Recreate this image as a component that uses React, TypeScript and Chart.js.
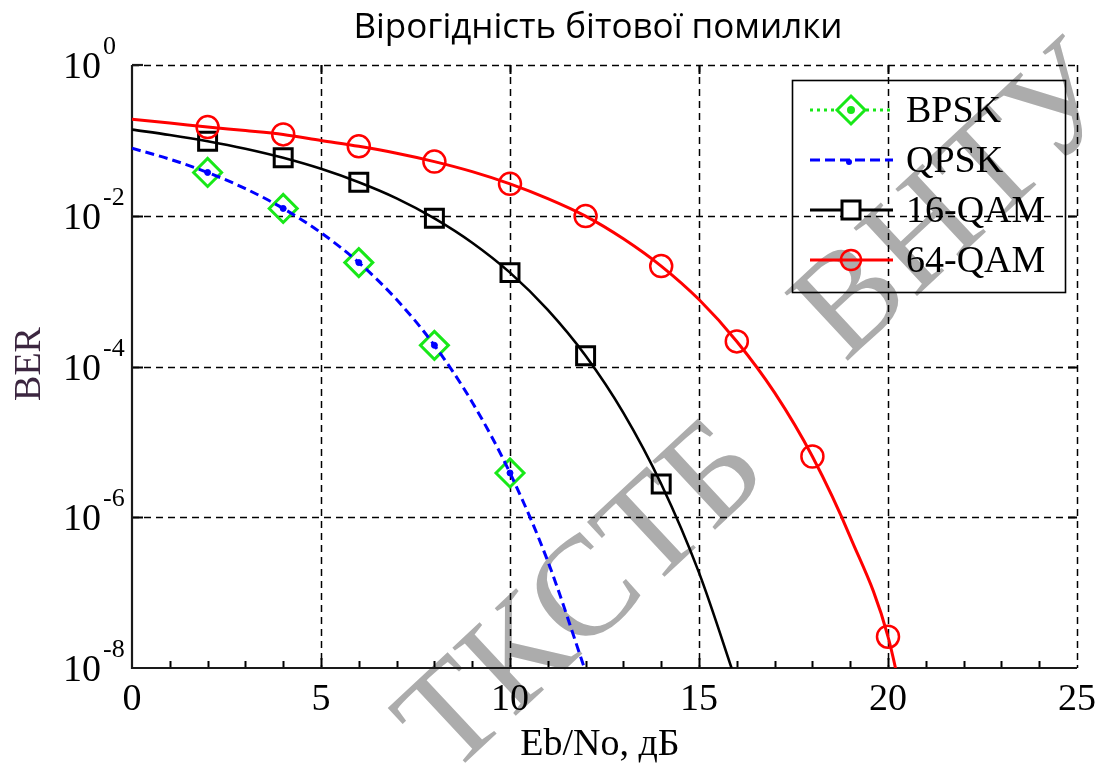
import React, { useEffect, useRef } from 'react';
import { Chart, registerables } from 'chart.js';

Chart.register(...registerables);

const W = 1103;
const H = 766;

// Eb/No grid (dB) and bit error rates for each modulation
const bpskEbNo = [2, 4, 6, 8, 10];
const bpskBer = [3.75e-2, 1.25e-2, 2.39e-3, 1.91e-4, 3.87e-6];

const qpskEbNo = [0, 1, 2, 3, 4, 5, 6, 7, 8, 9, 10, 11, 12];
const qpskBer = [7.86e-2, 5.63e-2, 3.75e-2, 2.29e-2, 1.25e-2, 5.95e-3, 2.39e-3, 7.73e-4, 1.91e-4, 3.36e-5, 3.87e-6, 2.61e-7, 9.0e-9];
const qpskMarkEbNo = [2, 4, 6, 8, 10];

const qam16EbNo = [0, 1, 2, 3, 4, 5, 6, 7, 8, 9, 10, 11, 12, 13, 14, 15, 16];
const qam16Ber = [0.139, 0.118, 0.0975, 0.0775, 0.0587, 0.0419, 0.0278, 0.017, 9.24e-3, 4.39e-3, 1.76e-3, 5.64e-4, 1.39e-4, 2.43e-5, 2.76e-6, 1.84e-7, 6.2e-9];
const qam16MarkEbNo = [2, 4, 6, 8, 10, 12, 14];

const qam64EbNo = [0, 1, 2, 3, 4, 5, 6, 7, 8, 9, 10, 11, 12, 13, 14, 15, 16, 17, 18, 19, 20, 21];
const qam64Ber = [0.19, 0.17, 0.15, 0.135, 0.12, 0.0997, 0.0834, 0.0675, 0.0523, 0.0385, 0.0265, 0.0169, 9.9e-3, 4.95e-3, 2.15e-3, 7.73e-4, 2.15e-4, 4.5e-5, 6.4e-6, 5.5e-7, 2.6e-8, 1e-10];
const qam64MarkEbNo = [2, 4, 6, 8, 10, 12, 14, 16, 18, 20];

// Axis ticks
const xMajorTicks = [0, 5, 10, 15, 20, 25];
const xMinorTicks = [1, 2, 3, 4, 6, 7, 8, 9, 11, 12, 13, 14, 16, 17, 18, 19, 21, 22, 23, 24];
const yTickExponents = [0, -2, -4, -6, -8];

const seriesLabels = ['BPSK', 'QPSK', '16-QAM', '64-QAM'];
const titleText = 'Вірогідність бітової помилки';
const xTitleText = 'Eb/No, дБ';
const yTitleText = 'BER';
const watermarkWords = ['ТКСТБ', 'ВНТУ'];

const GREEN = '#18e818';
const BLUE = '#0000ff';
const BLACK = '#000000';
const RED = '#ff0000';

const SERIF = '"Liberation Serif", "Times New Roman", serif';
const SANS = '"Open Sans", "Noto Sans", sans-serif';

const toPoints = (xs: number[], ys: number[]) => xs.map((x, i) => ({ x, y: ys[i] }));

const markRadius = (marks: number[], r: number) => (c: any) =>
  c.raw && marks.includes(c.raw.x) ? r : 0;

const decorPlugin = {
  id: 'berDecor',
  beforeDatasetsDraw(chart: any) {
    const { ctx, chartArea: a, scales } = chart;
    const xs = scales.x;
    const ys = scales.y;
    ctx.save();

    // watermark
    ctx.fillStyle = '#acacac';
    ctx.font = `142px ${SERIF}`;
    ctx.textAlign = 'center';
    ctx.textBaseline = 'middle';
    const wmPos = [
      [585, 600],
      [960, 205],
    ];
    watermarkWords.forEach((w, i) => {
      ctx.save();
      ctx.translate(wmPos[i][0], wmPos[i][1]);
      ctx.rotate((-43 * Math.PI) / 180);
      ctx.fillText(w, 0, 0);
      ctx.restore();
    });

    // title
    ctx.fillStyle = '#000';
    ctx.font = `35px ${SANS}`;
    ctx.textAlign = 'center';
    ctx.textBaseline = 'alphabetic';
    ctx.fillText(titleText, 598, 38);

    // dashed grid (including top and right edges)
    ctx.strokeStyle = '#000';
    ctx.lineWidth = 1.5;
    ctx.setLineDash([7, 5]);
    xMajorTicks.slice(1).forEach((v) => {
      const px = Math.round(xs.getPixelForValue(v)) + 0.5;
      ctx.beginPath();
      ctx.moveTo(px, a.top);
      ctx.lineTo(px, a.bottom);
      ctx.stroke();
    });
    yTickExponents.slice(0, -1).forEach((e) => {
      const py = Math.round(ys.getPixelForValue(Math.pow(10, e))) + 0.5;
      ctx.beginPath();
      ctx.moveTo(a.left, py);
      ctx.lineTo(a.right, py);
      ctx.stroke();
    });
    ctx.setLineDash([]);

    // solid tick marks
    ctx.lineWidth = 2;
    xMajorTicks.slice(1, -1).forEach((v) => {
      const px = Math.round(xs.getPixelForValue(v)) + 0.5;
      ctx.beginPath();
      ctx.moveTo(px, a.bottom);
      ctx.lineTo(px, a.bottom - 10);
      ctx.moveTo(px, a.top);
      ctx.lineTo(px, a.top + 9);
      ctx.stroke();
    });
    xMinorTicks.forEach((v) => {
      const px = Math.round(xs.getPixelForValue(v)) + 0.5;
      ctx.beginPath();
      ctx.moveTo(px, a.bottom);
      ctx.lineTo(px, a.bottom - 7);
      ctx.stroke();
    });
    yTickExponents.slice(1, -1).forEach((e) => {
      const py = Math.round(ys.getPixelForValue(Math.pow(10, e))) + 0.5;
      ctx.beginPath();
      ctx.moveTo(a.left, py);
      ctx.lineTo(a.left + 11, py);
      ctx.moveTo(a.right, py);
      ctx.lineTo(a.right - 9, py);
      ctx.stroke();
    });

    // solid left and bottom axes
    ctx.lineWidth = 2.2;
    ctx.strokeStyle = '#1a1a1a';
    ctx.beginPath();
    ctx.moveTo(a.left, a.top);
    ctx.lineTo(a.left, a.bottom);
    ctx.lineTo(a.right, a.bottom);
    ctx.stroke();
    ctx.beginPath();
    ctx.moveTo(a.left, a.top);
    ctx.lineTo(a.left + 11, a.top);
    ctx.stroke();

    // tick labels
    ctx.fillStyle = '#000';
    ctx.font = `38px ${SERIF}`;
    ctx.textAlign = 'center';
    ctx.textBaseline = 'alphabetic';
    xMajorTicks.forEach((v) => {
      ctx.fillText(String(v), xs.getPixelForValue(v), 710);
    });
    yTickExponents.forEach((e) => {
      const py = ys.getPixelForValue(Math.pow(10, e));
      ctx.font = `38px ${SERIF}`;
      ctx.textAlign = 'right';
      ctx.fillText('10', 101, py + 13);
      ctx.font = `26px ${SERIF}`;
      ctx.textAlign = 'left';
      ctx.fillText(String(e), 103, py - 11);
    });

    // axis titles
    ctx.font = `38px ${SERIF}`;
    ctx.textAlign = 'center';
    ctx.fillText(xTitleText, 600, 755);
    ctx.save();
    ctx.translate(40, 364);
    ctx.rotate(-Math.PI / 2);
    ctx.fillStyle = '#3c2640';
    ctx.fillText(yTitleText, 0, 0);
    ctx.restore();

    ctx.restore();
  },
  afterDatasetsDraw(chart: any) {
    const { ctx } = chart;
    ctx.save();
    // legend box
    const bx = 792;
    const by = 80;
    const bw = 273;
    const bh = 212;
    ctx.strokeStyle = '#000';
    ctx.lineWidth = 1.6;
    ctx.strokeRect(bx + 0.5, by + 0.5, bw, bh);

    const rowY = [110, 160, 210, 260];
    const x0 = 810;
    const x1 = 893;
    const xm = 851;
    const styles = [
      { color: GREEN, dash: [3, 4], width: 3 },
      { color: BLUE, dash: [10, 5], width: 3 },
      { color: BLACK, dash: [], width: 3 },
      { color: RED, dash: [], width: 3 },
    ];
    styles.forEach((s, i) => {
      const y = rowY[i];
      ctx.strokeStyle = s.color;
      ctx.lineWidth = s.width;
      ctx.setLineDash(s.dash);
      ctx.beginPath();
      ctx.moveTo(x0, y);
      ctx.lineTo(x1, y);
      ctx.stroke();
      ctx.setLineDash([]);
    });
    // legend markers
    ctx.lineWidth = 3;
    ctx.strokeStyle = GREEN;
    ctx.fillStyle = '#fff';
    ctx.beginPath();
    ctx.moveTo(xm - 14, rowY[0]);
    ctx.lineTo(xm, rowY[0] - 14);
    ctx.lineTo(xm + 14, rowY[0]);
    ctx.lineTo(xm, rowY[0] + 14);
    ctx.closePath();
    ctx.fill();
    ctx.stroke();
    ctx.fillStyle = GREEN;
    ctx.beginPath();
    ctx.arc(xm, rowY[0], 4, 0, Math.PI * 2);
    ctx.fill();

    ctx.fillStyle = BLUE;
    ctx.beginPath();
    ctx.arc(xm - 2, rowY[1] + 2, 3, 0, Math.PI * 2);
    ctx.fill();

    ctx.strokeStyle = BLACK;
    ctx.fillStyle = '#fff';
    ctx.fillRect(xm - 9, rowY[2] - 9, 18, 18);
    ctx.strokeRect(xm - 9, rowY[2] - 9, 18, 18);

    ctx.strokeStyle = RED;
    ctx.lineWidth = 2.5;
    ctx.beginPath();
    ctx.arc(xm, rowY[3], 10, 0, Math.PI * 2);
    ctx.stroke();

    ctx.fillStyle = '#000';
    ctx.font = `38px ${SERIF}`;
    ctx.textAlign = 'left';
    ctx.textBaseline = 'middle';
    seriesLabels.forEach((t, i) => ctx.fillText(t, 906, rowY[i] + 2));
    ctx.restore();
  },
};

export default function App() {
  const canvasRef = useRef<HTMLCanvasElement | null>(null);

  useEffect(() => {
    const canvas = canvasRef.current;
    if (!canvas) return;

    const chart = new Chart(canvas, {
      type: 'line',
      data: {
        datasets: [
          {
            label: seriesLabels[3],
            data: toPoints(qam64EbNo, qam64Ber),
            borderColor: RED,
            borderWidth: 3,
            pointStyle: 'circle',
            pointRadius: markRadius(qam64MarkEbNo, 11),
            pointBorderColor: RED,
            pointBackgroundColor: 'rgba(0,0,0,0)',
            pointBorderWidth: 2.5,
            pointHoverRadius: 0,
            cubicInterpolationMode: 'monotone',
            clip: 0,
            order: 1,
          } as any,
          {
            label: seriesLabels[2],
            data: toPoints(qam16EbNo, qam16Ber),
            borderColor: BLACK,
            borderWidth: 2.6,
            pointStyle: 'rect',
            pointRadius: markRadius(qam16MarkEbNo, 12.7),
            pointBorderColor: BLACK,
            pointBackgroundColor: 'rgba(0,0,0,0)',
            pointBorderWidth: 3,
            pointHoverRadius: 0,
            cubicInterpolationMode: 'monotone',
            clip: 0,
            order: 2,
          } as any,
          {
            label: seriesLabels[1],
            data: toPoints(qpskEbNo, qpskBer),
            borderColor: BLUE,
            borderWidth: 3,
            borderDash: [9, 5],
            pointStyle: 'circle',
            pointRadius: markRadius(qpskMarkEbNo, 3),
            pointBorderColor: BLUE,
            pointBackgroundColor: BLUE,
            pointBorderWidth: 1,
            pointHoverRadius: 0,
            cubicInterpolationMode: 'monotone',
            clip: 0,
            order: 3,
          } as any,
          {
            label: seriesLabels[0],
            data: toPoints(bpskEbNo, bpskBer),
            showLine: false,
            borderColor: GREEN,
            pointStyle: 'rectRot',
            pointRadius: 14,
            pointBorderColor: GREEN,
            pointBackgroundColor: 'rgba(0,0,0,0)',
            pointBorderWidth: 3,
            pointHoverRadius: 0,
            clip: 0,
            order: 4,
          } as any,
        ],
      },
      options: {
        animation: false,
        responsive: false,
        devicePixelRatio: 1,
        layout: { padding: { left: 132, right: 26, top: 65, bottom: 98 } },
        scales: {
          x: { type: 'linear', min: 0, max: 25, display: false },
          y: { type: 'logarithmic', min: 1e-8, max: 1, display: false },
        },
        plugins: {
          legend: { display: false },
          tooltip: { enabled: false },
          title: { display: false },
        },
        events: [],
      },
      plugins: [decorPlugin],
    });

    return () => chart.destroy();
  }, []);

  return (
    <div style={{ position: 'absolute', left: 0, top: 0, width: W, height: H, background: '#fff' }}>
      <canvas ref={canvasRef} width={W} height={H} style={{ display: 'block' }} />
    </div>
  );
}
